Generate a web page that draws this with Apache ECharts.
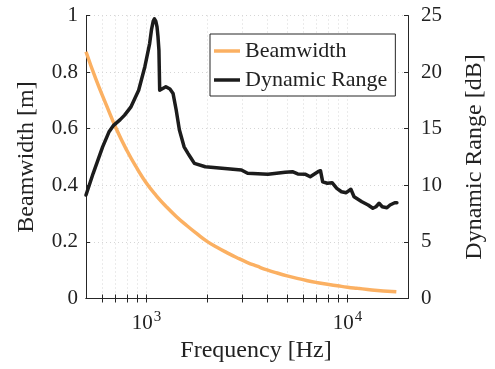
<!DOCTYPE html>
<html>
<head>
<meta charset="utf-8">
<script src="https://cdn.jsdelivr.net/npm/echarts@6/dist/echarts.min.js"></script>
<style>
html,body{margin:0;padding:0;background:#fff;}
#c{width:495px;height:369px;}
</style>
</head>
<body>
<div id="c"></div>
<script>
// ---- data ----
const freqBW = [500, 560, 630, 710, 800, 900, 1000, 1120, 1260, 1410, 1590, 1780, 2000, 2240, 2510, 2820, 3160, 3550, 3980, 4470, 5010, 5620, 6310, 7080, 7940, 8910, 10000, 11200, 12600, 14100, 15800, 17500];
const beamwidth = [0.872, 0.775, 0.685, 0.597, 0.522, 0.458, 0.407, 0.363, 0.323, 0.289, 0.257, 0.229, 0.202, 0.181, 0.162, 0.144, 0.128, 0.114, 0.101, 0.090, 0.080, 0.071, 0.063, 0.056, 0.050, 0.045, 0.040, 0.036, 0.032, 0.028, 0.026, 0.024];

const freqDR = [500, 543, 605, 650, 686, 740, 778, 835, 914, 982, 1036, 1060, 1080, 1095, 1112, 1128, 1141, 1153, 1163, 1188, 1248, 1308, 1356, 1405, 1457, 1538, 1611, 1651, 1731, 1742, 1961, 2965, 3184, 4019, 4898, 5319, 5654, 6183, 6525, 7131, 7339, 7527, 7943, 8381, 8845, 9333, 9851, 10395, 10783, 11790, 12668, 13367, 13857, 14360, 14890, 15710, 16280, 17180, 17610];
const dynRange = [9.14, 11.06, 13.4, 14.7, 15.3, 15.8, 16.2, 16.9, 18.4, 20.5, 22.5, 23.8, 24.5, 24.7, 24.5, 24.0, 23.1, 21.95, 18.4, 18.5, 18.7, 18.5, 18.1, 16.65, 14.9, 13.4, 12.8, 12.5, 11.94, 11.9, 11.64, 11.35, 11.06, 10.97, 11.15, 11.2, 11.0, 10.97, 10.76, 11.2, 11.29, 10.3, 10.18, 10.23, 9.73, 9.43, 9.35, 9.65, 8.99, 8.55, 8.26, 7.97, 8.11, 8.41, 8.11, 8.02, 8.26, 8.46, 8.46];

const xTickValues = [600, 700, 800, 900, 1000, 2000, 3000, 4000, 5000, 6000, 7000, 8000, 9000, 10000];
const xLabelValues = [1000, 10000];
const xLabelExps = ['3', '4'];
const seriesNames = ['Beamwidth', 'Dynamic Range'];
const xName = 'Frequency [Hz]';
const yLeftName = 'Beamwidth [m]';
const yRightName = 'Dynamic Range [dB]';

// ---- chart ----
const FONT = 'Liberation Serif';
const AX = '#262626';
const GRIDC = '#d6d6d6';
const chart = echarts.init(document.getElementById('c'), null, {renderer: 'canvas'});

const xCommon = {
  type: 'log', logBase: 10, min: 500, max: 20000,
  axisLine: {show: true, lineStyle: {color: AX, width: 1}},
  axisTick: {show: true, inside: true, length: 4, customValues: xTickValues, lineStyle: {color: AX}},
  minorTick: {show: false},
};

const option = {
  animation: false,
  backgroundColor: '#fff',
  grid: {left: 86, right: 66, top: 15.5, bottom: 70.5, containLabel: false},
  legend: {
    orient: 'vertical', left: 210, top: 34,
    padding: [6, 8, 5, 4],
    itemGap: 7, itemWidth: 26, itemHeight: 3.5,
    borderColor: AX, borderWidth: 1, backgroundColor: '#fff',
    data: seriesNames.map(n => ({name: n, icon: 'rect'})),
    textStyle: {fontFamily: FONT, fontSize: 22, color: '#222', lineHeight: 22}
  },
  xAxis: [
    Object.assign({}, xCommon, {
      position: 'bottom',
      name: xName, nameLocation: 'middle', nameGap: 38,
      nameTextStyle: {fontFamily: FONT, fontSize: 24, color: '#222', padding: [0, 0, 0, 18]},
      splitLine: {show: true, lineStyle: {color: GRIDC, type: [1, 3], width: 1}},
      axisLabel: {
        show: true, customValues: xLabelValues, margin: 11,
        formatter: function (v) {
          const i = xLabelValues.indexOf(Math.round(v));
          return '{b|10}{s|' + (i >= 0 ? xLabelExps[i] : '') + '}';
        },
        rich: {
          b: {fontFamily: FONT, fontSize: 21, color: '#222'},
          s: {fontFamily: FONT, fontSize: 15, color: '#222', padding: [0, 0, 12, 1]}
        }
      }
    }),
    Object.assign({}, xCommon, {
      position: 'top',
      axisLabel: {show: false},
      splitLine: {show: false}
    })
  ],
  yAxis: [
    {
      type: 'value', min: 0, max: 1, interval: 0.2, position: 'left',
      name: yLeftName, nameLocation: 'middle', nameGap: 47, nameRotate: 90,
      nameTextStyle: {fontFamily: FONT, fontSize: 24, color: '#222'},
      axisLine: {show: true, lineStyle: {color: AX}},
      axisTick: {show: true, inside: true, length: 4, lineStyle: {color: AX}},
      axisLabel: {fontFamily: FONT, fontSize: 21, color: '#222', margin: 8,
        formatter: v => (v === 0 || v === 1) ? String(v) : v.toFixed(1)},
      splitLine: {show: true, lineStyle: {color: GRIDC, type: [1, 3], width: 1}}
    },
    {
      type: 'value', min: 0, max: 25, interval: 5, position: 'right',
      name: yRightName, nameLocation: 'middle', nameGap: 55, nameRotate: 90,
      nameTextStyle: {fontFamily: FONT, fontSize: 24, color: '#222'},
      axisLine: {show: true, lineStyle: {color: AX}},
      axisTick: {show: true, inside: true, length: 4, lineStyle: {color: AX}},
      axisLabel: {fontFamily: FONT, fontSize: 21, color: '#222', margin: 13},
      splitLine: {show: false}
    }
  ],
  series: [
    {
      name: seriesNames[0], type: 'line', xAxisIndex: 0, yAxisIndex: 0,
      data: freqBW.map((f, i) => [f, beamwidth[i]]),
      showSymbol: false, smooth: 0.5,
      lineStyle: {color: '#FBB062', width: 3.5},
      itemStyle: {color: '#FBB062'}
    },
    {
      name: seriesNames[1], type: 'line', xAxisIndex: 0, yAxisIndex: 1,
      data: freqDR.map((f, i) => [f, dynRange[i]]),
      showSymbol: false, smooth: false,
      lineStyle: {color: '#1c1c1c', width: 3.5, join: 'round', cap: 'round'},
      itemStyle: {color: '#1c1c1c'}
    }
  ]
};
chart.setOption(option);
</script>
</body>
</html>
